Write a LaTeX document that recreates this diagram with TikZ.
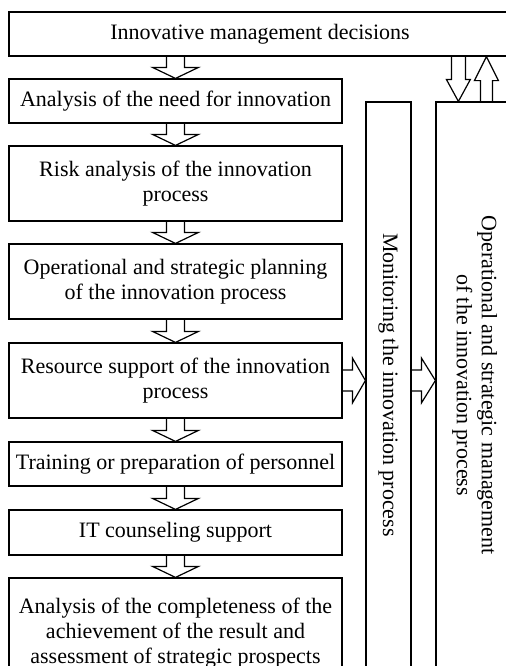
\documentclass[tikz,border=0pt]{standalone}
\usepackage{fontspec}
\setmainfont{Liberation Serif}
\usepackage{graphicx}
\usepackage{tikz}
\usetikzlibrary{calc}

\tikzset{box/.style={draw, line width=0.6pt, inner sep=1pt, align=center, font=\fontsize{11}{12.5}\selectfont},
blk/.style={line width=0.6pt, line join=miter}}

\newcommand{\downblock}[5]{\draw[blk] ($(#1)+(-#3,0)$) -- ($(#2)+(-#3,-#5)$) -- ($(#2)+(-#4,-#5)$) -- (#2) -- ($(#2)+(#4,-#5)$) -- ($(#2)+(#3,-#5)$) -- ($(#1)+(#3,0)$);}
\newcommand{\upblock}[5]{\draw[blk] ($(#1)+(-#3,0)$) -- ($(#2)+(-#3,#5)$) -- ($(#2)+(-#4,#5)$) -- (#2) -- ($(#2)+(#4,#5)$) -- ($(#2)+(#3,#5)$) -- ($(#1)+(#3,0)$);}
\newcommand{\rightblock}[5]{\draw[blk] ($(#1)+(0,-#3)$) -- ($(#2)+(-#5,-#3)$) -- ($(#2)+(-#5,-#4)$) -- (#2) -- ($(#2)+(-#5,#4)$) -- ($(#2)+(-#5,#3)$) -- ($(#1)+(0,#3)$);}

\begin{document}
\begin{tikzpicture}[x=0.5pt,y=-0.5pt]
\useasboundingbox (0,0) rectangle (506,666);
\clip (0,0) rectangle (506,666);

\node[box, minimum width=251pt, minimum height=22pt] (top) at (260,34) {Innovative management decisions};
\node[box, minimum width=166.5pt, minimum height=22pt] (need) at (175.5,101) {Analysis of the need for innovation};
\node[box, minimum width=166.5pt, minimum height=37.5pt] (risk) at (175.5,183.5) {Risk analysis of the innovation\\process};
\node[box, minimum width=166.5pt, minimum height=37.5pt] (plan) at (175.5,281.5) {Operational and strategic planning\\of the innovation process};
\node[box, minimum width=166.5pt, minimum height=37.5pt] (res) at (175.5,380.5) {Resource support of the innovation\\process};
\node[box, minimum width=166.5pt, minimum height=22pt] (train) at (175.5,464) {Training or preparation of personnel};
\node[box, minimum width=166.5pt, minimum height=22.5pt] (it) at (175.5,532.5) {IT counseling support};
\node[box, minimum width=166.5pt, minimum height=55pt] (compl) at (175.5,633) {Analysis of the completeness of the\\achievement of the result and\\assessment of strategic prospects};

\node[box, minimum width=22.5pt, minimum height=283pt] (mon) at (388.5,385) {\rotatebox{-90}{Monitoring the innovation process}};
\node[box, minimum width=38.5pt, minimum height=283pt] (oper) at (474.5,385) {\rotatebox{-90}{\begin{tabular}{@{}c@{}}Operational and strategic management\\of the innovation process\end{tabular}}};

\coordinate (s0) at (top.south -| need.north);
\downblock{s0}{need.north}{9}{23}{11}
\downblock{need.south}{risk.north}{9}{23}{11}
\downblock{risk.south}{plan.north}{9}{23}{11}
\downblock{plan.south}{res.north}{9}{23}{11}
\downblock{res.south}{train.north}{9}{23}{11}
\downblock{train.south}{it.north}{9}{23}{11}
\downblock{it.south}{compl.north}{9}{23}{11}

\coordinate (m1) at (mon.west |- res.east);
\coordinate (m2) at (mon.east |- res.east);
\coordinate (o1) at (oper.west |- res.east);
\rightblock{res.east}{m1}{10.5}{22.5}{13}
\rightblock{m2}{o1}{10.5}{22.5}{14}

\coordinate (dtip) at ($(oper.north west)+(23,0)$);
\coordinate (dtop) at (top.south -| dtip);
\coordinate (ubot) at ($(oper.north west)+(51,0)$);
\coordinate (utip) at (top.south -| ubot);
\downblock{dtop}{dtip}{7}{12}{22}
\upblock{ubot}{utip}{6}{12}{24}

\end{tikzpicture}
\end{document}
